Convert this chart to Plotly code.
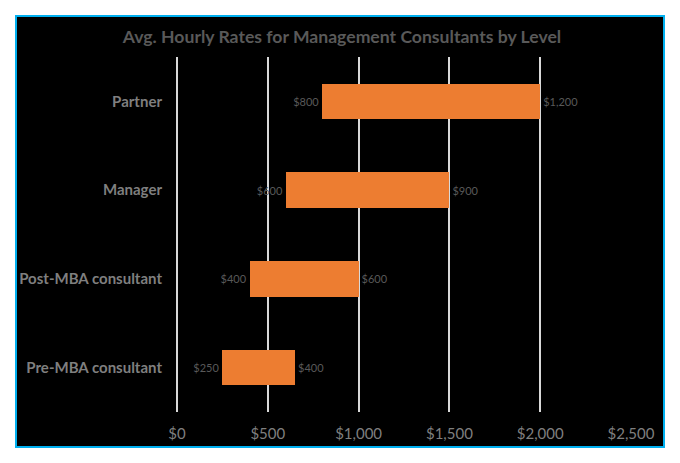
import plotly.graph_objects as go

# bottom-to-top order, as Excel lists them
levels = ["Pre-MBA consultant", "Post-MBA consultant", "Manager", "Partner"]
low_rate = [250, 400, 600, 800]
rate_spread = [400, 600, 900, 1200]

fig = go.Figure()

# invisible base so the orange bar floats from low to high
fig.add_trace(go.Bar(
    y=levels, x=low_rate, orientation="h",
    marker=dict(color="rgba(0,0,0,0)", line=dict(width=0)),
    text=["${:,}".format(v) for v in low_rate],
    textposition="inside", insidetextanchor="end",
    insidetextfont=dict(family="Lato", size=11, color="#595959"),
    constraintext="none", hoverinfo="skip", showlegend=False,
))
fig.add_trace(go.Bar(
    y=levels, x=rate_spread, orientation="h",
    marker=dict(color="#ED7D31", line=dict(width=0)),
    text=["${:,}".format(v) for v in rate_spread],
    textposition="outside",
    outsidetextfont=dict(family="Lato", size=11, color="#595959"),
    constraintext="none", cliponaxis=False, showlegend=False,
))

# black panel with blue border behind everything
fig.add_shape(type="rect", xref="paper", yref="paper",
              x0=-0.3546, x1=1.0727, y0=-0.0986, y1=1.1155,
              fillcolor="black", line=dict(color="#00B0F0", width=2),
              layer="below")

# page body adds an 8px margin, so the figure is 8px smaller
fig.update_layout(
    width=672, height=455,
    margin=dict(l=169, r=49, t=49, b=51),
    paper_bgcolor="white", plot_bgcolor="rgba(0,0,0,0)",
    barmode="stack", bargap=0.6,
    title=dict(text="Avg. Hourly Rates for Management Consultants by Level",
               x=(342 - 8) / 672, xref="container", y=1 - 29 / 455, yref="container",
               xanchor="center", yanchor="middle",
               font=dict(family="Lato", size=17.6, color="#595959", weight="bold")),
    font=dict(family="Lato"),
)
fig.update_xaxes(range=[0, 2500], dtick=500, tickprefix="$", tickformat=",d",
                 showgrid=True, gridcolor="#D9D9D9", gridwidth=2,
                 zeroline=True, zerolinecolor="#D9D9D9", zerolinewidth=2,
                 showline=False, ticks="", ticklabelstandoff=11,
                 tickfont=dict(family="Lato", size=15, color="#7F7F7F"))
fig.update_yaxes(showgrid=False, showline=False, ticks="", ticklabelstandoff=14,
                 tickfont=dict(family="Lato", size=15, color="#7F7F7F", weight="bold"))

fig.write_html("out.html")
